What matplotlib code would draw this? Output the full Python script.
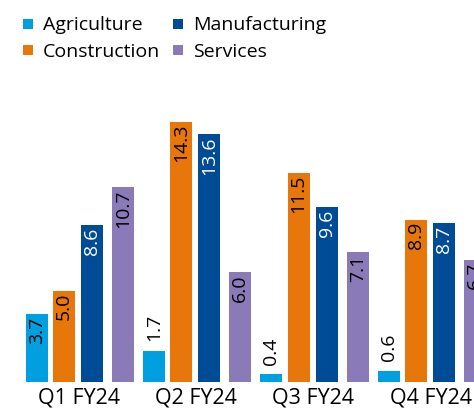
import matplotlib
matplotlib.use("Agg")
import matplotlib.pyplot as plt
import numpy as np
from matplotlib.lines import Line2D

quarters = ["Q1 FY24", "Q2 FY24", "Q3 FY24", "Q4 FY24"]
sectors = ["Agriculture", "Construction", "Manufacturing", "Services"]
agriculture = [3.7, 1.7, 0.4, 0.6]
construction = [5.0, 14.3, 11.5, 8.9]
manufacturing = [8.6, 13.6, 9.6, 8.7]
services = [10.7, 6.0, 7.1, 6.7]
series = [agriculture, construction, manufacturing, services]

colors = ["#009FE0", "#E8770B", "#004B95", "#8A7AB7"]
label_colors = ["black", "black", "white", "black"]
offsets = [-0.358, -0.125, 0.113, 0.378]
width = 0.188

plt.rcParams['font.family'] = ['Open Sans', 'DejaVu Sans']
fig = plt.figure(figsize=(4.74, 4.08), dpi=100)
ax = fig.add_axes([0, 26.5 / 408, 1, 281.5 / 408])

x = np.arange(len(quarters))
for vals, off, col, lc in zip(series, offsets, colors, label_colors):
    bars = ax.bar(x + off, vals, width=width, color=col, linewidth=0)
    for b, v in zip(bars, vals):
        cx = b.get_x() + b.get_width() / 2
        if v < 3:
            ax.annotate(f"{v:.1f}", (cx, v), xytext=(0, 7), textcoords="offset points",
                        rotation=90, ha="center", va="bottom", fontsize=14, color="black",
                        annotation_clip=False)
        else:
            ax.annotate(f"{v:.1f}", (cx, v), xytext=(0, -1.5), textcoords="offset points",
                        rotation=90, ha="center", va="top", fontsize=14, color=lc,
                        annotation_clip=False)

ax.set_xlim(-0.671, 3.370)
ax.set_ylim(0, 281.5 / 18.17)
ax.set_xticks(x)
ax.set_xticklabels(quarters, fontsize=15.5)
ax.tick_params(axis="x", length=0, pad=4)
ax.set_yticks([])
for s in ax.spines.values():
    s.set_visible(False)

handles = [Line2D([], [], marker="s", linestyle="none", markersize=7.5,
                  markerfacecolor=c, markeredgewidth=0) for c in colors]
fig.legend(handles, sectors, ncol=2,
           loc="upper left", bbox_to_anchor=(0.045, 0.96), frameon=False,
           fontsize=14, handlelength=0.7, handletextpad=0.4, columnspacing=0.6,
           labelspacing=0.45, borderpad=0, borderaxespad=0)

fig.savefig("out.png", dpi=100)
